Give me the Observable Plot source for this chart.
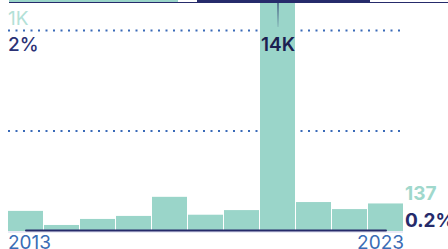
<!DOCTYPE html>
<html>
<head>
<meta charset="utf-8">
<script src="https://cdn.jsdelivr.net/npm/d3@7"></script>
<script src="https://cdn.jsdelivr.net/npm/@observablehq/plot@0.6"></script>
<style>
  html, body { margin: 0; padding: 0; background: #fff; }
  body { width: 448px; height: 249px; overflow: hidden; font-family: Inter, "Open Sans", sans-serif; }
  #strip { position: relative; height: 2px; border-bottom: 1px solid #262b6b; margin-left: 9px; }
  #strip .a { position: absolute; top: 0; height: 2px; left: 0; width: 169px; background: #9ad5c9; }
  #strip .b { position: absolute; top: 0; height: 2px; left: 188px; width: 173px; background: #262b6b; }
  svg { display: block; }
</style>
</head>
<body>
<div id="strip"><div class="a"></div><div class="b"></div></div>
<div id="chart"></div>
<script>
// Data
const years  = [2013, 2014, 2015, 2016, 2017, 2018, 2019, 2020, 2021, 2022, 2023];
const counts = [100, 30, 60, 75, 170, 81, 104, 14000, 144, 109, 137];
const pcts   = [0.01, 0.01, 0.01, 0.01, 0.01, 0.01, 0.01, 0.01, 0.01, 0.01, 0.01];
const gridValues = [500, 1000];
const countTickLabel = "1K";
const pctTickLabel = "2%";
const peakLabel = "14K";
const lastCountLabel = "137";
const lastPctLabel = "0.2%";
const firstYearLabel = "2013";
const lastYearLabel = "2023";
const spikeRange = [1140, 1015];

const pctToCount = 500; // 2% shares the 1K gridline
const rows = years.map((y, i) => ({year: y, count: counts[i], pct: pcts[i]}));
const yMax = 1134;
const first = years[0], last = years[years.length - 1], peakYear = years[counts.indexOf(d3.max(counts))];

const teal = "#9ad5c9", navy = "#262b6b", blue = "#3a6ab8";
const fs = 19;

const plot = Plot.plot({
  width: 448,
  height: 246,
  marginLeft: 8,
  marginRight: 45,
  marginTop: 0,
  marginBottom: 18,
  style: {fontFamily: "Inter, 'Open Sans', sans-serif", overflow: "visible"},
  x: {type: "band", domain: years, paddingInner: 0.03, paddingOuter: 0, axis: null},
  y: {domain: [0, yMax], axis: null},
  marks: [
    Plot.ruleY(gridValues, {stroke: blue, strokeWidth: 2, strokeDasharray: "2,5.5"}),
    Plot.barY(rows, {x: "year", y: "count", fill: teal, clip: true}),
    Plot.ruleY([0], {stroke: "#d6d7ef", strokeWidth: 1, dy: 0.5}),
    Plot.line(rows, {x: "year", y: d => d.pct * pctToCount, stroke: navy, strokeWidth: 2}),
    Plot.ruleX([peakYear], {x: d => d, y1: spikeRange[0], y2: spikeRange[1], stroke: "url(#spikeGrad)", strokeWidth: 1.2, clip: true}),
    Plot.text([countTickLabel], {x: () => first, y: () => gridValues[1], text: d => d, textAnchor: "start", dx: -18, dy: -12, fontSize: fs, fontWeight: 400, fill: "#b3e1d7"}),
    Plot.text([pctTickLabel], {x: () => first, y: () => gridValues[1], text: d => d, textAnchor: "start", dx: -18, dy: 14, fontSize: fs, fontWeight: 500, fill: "#2b3175"}),
    Plot.text([peakLabel], {x: () => peakYear, y: () => gridValues[1], text: d => d, textAnchor: "middle", dy: 14, fontSize: fs, fontWeight: 600, fill: "#1b2050"}),
    Plot.text([lastCountLabel], {x: () => last, y: () => counts[counts.length - 1], text: d => d, textAnchor: "start", dx: 19, dy: -10, fontSize: fs, fontWeight: 700, fill: "#a0d8cc"}),
    Plot.text([lastPctLabel], {x: () => last, y: () => 0, text: d => d, textAnchor: "start", dx: 19, dy: -11, fontSize: fs, fontWeight: 700, fill: navy}),
    Plot.text([firstYearLabel], {x: () => first, y: () => 0, text: d => d, textAnchor: "start", dx: -18, dy: 11, fontSize: fs, fontWeight: 400, fill: "#3a6cb5"}),
    Plot.text([lastYearLabel], {x: () => last, y: () => 0, text: d => d, textAnchor: "end", dx: 18, dy: 11, fontSize: fs, fontWeight: 400, fill: "#3a6cb5"})
  ]
});

const defs = d3.select(plot).insert("defs", ":first-child");
const g = defs.append("linearGradient").attr("id", "spikeGrad").attr("gradientUnits", "userSpaceOnUse")
  .attr("x1", 0).attr("x2", 0).attr("y1", 0).attr("y2", 26);
g.append("stop").attr("offset", "0%").attr("stop-color", "#2c3a6e").attr("stop-opacity", 1);
g.append("stop").attr("offset", "100%").attr("stop-color", "#2c3a6e").attr("stop-opacity", 0.1);

document.getElementById("chart").appendChild(plot);
</script>
</body>
</html>
